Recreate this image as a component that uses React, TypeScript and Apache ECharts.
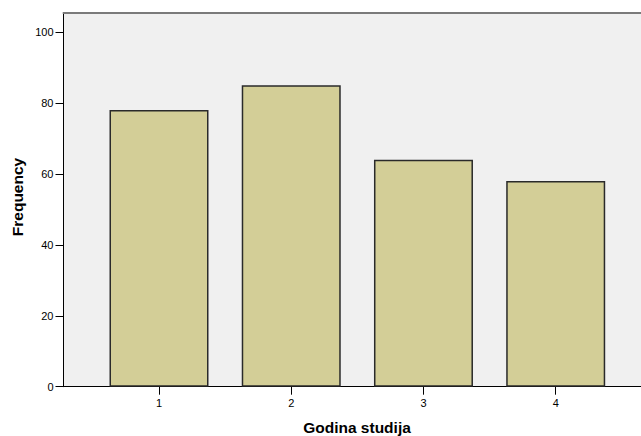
import React, { useEffect, useRef } from "react";
import * as echarts from "echarts";

const categories = [1, 2, 3, 4];
const frequencies = [78, 85, 64, 58];
const yTicks = [0, 20, 40, 60, 80, 100];
const xTitle = "Godina studija";
const yTitle = "Frequency";

export default function App() {
  const ref = useRef<HTMLDivElement>(null);
  useEffect(() => {
    if (!ref.current) return;
    const chart = echarts.init(ref.current, undefined, { renderer: "svg" });
    const font = "Arial, 'Liberation Sans', sans-serif";
    chart.setOption({
      animation: false,
      backgroundColor: "#ffffff",
      grid: {
        left: 63.5,
        right: 0,
        top: 13,
        bottom: 49.3,
        show: true,
        backgroundColor: "#F0F0F0",
        borderWidth: 0,
      },
      xAxis: [
        {
          type: "value",
          min: 0.2778,
          max: 4.645,
          position: "bottom",
          splitLine: { show: false },
          axisLine: { show: true, lineStyle: { color: "#000", width: 1 } },
          axisTick: {
            show: true,
            length: 8,
            customValues: categories,
            lineStyle: { color: "#000", width: 1 },
          },
          axisLabel: {
            customValues: categories,
            color: "#000",
            fontSize: 11,
            fontFamily: font,
            margin: 11,
          },
        },
        {
          type: "value",
          min: 0.2778,
          max: 4.645,
          position: "top",
          splitLine: { show: false },
          axisLine: { show: true, lineStyle: { color: "#7a7a7a", width: 2 } },
          axisTick: { show: false },
          axisLabel: { show: false },
        },
      ],
      yAxis: {
        type: "value",
        min: 0,
        max: 105.36,
        splitLine: { show: false },
        axisLine: { show: true, lineStyle: { color: "#000", width: 1 } },
        axisTick: {
          show: true,
          length: 8,
          customValues: yTicks,
          lineStyle: { color: "#000", width: 1 },
        },
        axisLabel: {
          customValues: yTicks,
          color: "#000",
          fontSize: 11,
          fontFamily: font,
          margin: 10,
        },
      },
      series: [
        {
          type: "bar",
          xAxisIndex: 0,
          data: categories.map((c, i) => [c, frequencies[i]]),
          barWidth: 99,
          itemStyle: {
            color: "#D3CE97",
            borderColor: "#2a2a2a",
            borderWidth: 1.5,
          },
        },
      ],
      graphic: [
        {
          type: "text",
          x: 357,
          y: 427,
          style: {
            text: xTitle,
            font: `bold 15.5px ${font}`,
            fill: "#000",
            textAlign: "center",
            textVerticalAlign: "middle",
          },
        },
        {
          type: "text",
          x: 17,
          y: 197,
          rotation: Math.PI / 2,
          style: {
            text: yTitle,
            font: `bold 15.5px ${font}`,
            fill: "#000",
            textAlign: "center",
            textVerticalAlign: "middle",
          },
        },
      ],
    });
    return () => chart.dispose();
  }, []);
  return (
    <div
      ref={ref}
      style={{ position: "absolute", left: 0, top: 0, width: 641, height: 436 }}
    />
  );
}
